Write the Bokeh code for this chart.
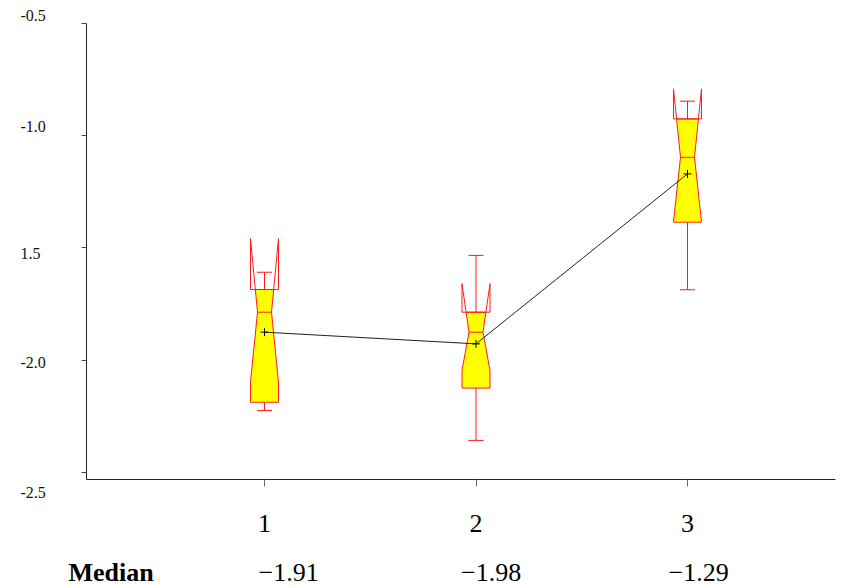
from bokeh.plotting import figure
from bokeh.models import Range1d, FixedTicker
from bokeh.core.properties import value
from bokeh.embed import file_html
from bokeh.resources import INLINE

# ---- data ----
groups = [1, 2, 3]
q1 = [-2.187, -2.124, -1.385]
q3 = [-1.685, -1.786, -0.925]
medians = [-1.786, -1.875, -1.096]
notch_lo = [-2.098, -2.046, -1.383]
notch_hi = [-1.458, -1.659, -0.791]
whisker_lo = [-2.224, -2.357, -1.686]
whisker_hi = [-1.608, -1.533, -0.846]
means = [-1.875, -1.927, -1.170]

y_ticks = [-0.5, -1.0, -1.5, -2.0, -2.5]
y_tick_labels = ["-0.5", "-1.0", "1.5", "-2.0", "-2.5"]
x_tick_labels = ["1", "2", "3"]
median_title = "Median"
median_labels = ["\u22121.91", "\u22121.98", "\u22121.29"]

# ---- layout / styling ----
W, H = 848, 586
X0, X1 = 0.15839, 3.69976          # extent of the x axis line
Y0, Y1 = -2.53118, -0.5            # extent of the y axis line
XR = (-0.24823, 3.76123)
YR = (-3.00780, -0.39755)
BW = 0.0662        # box half width (data units)
NW = 0.5 * BW      # notch half width at median
CW = 0.0355        # whisker cap half width
RED = "#ff1a1a"
FONT = "Liberation Serif"
y_label_offsets = [-8, -9, 6, 2, 20]
median_x_offsets = [-6, -15, -19]

p = figure(width=W, height=H, output_backend="svg", toolbar_location=None,
           x_range=Range1d(*XR), y_range=Range1d(*YR),
           min_border_left=0, min_border_top=0, min_border_right=0, min_border_bottom=0)
p.outline_line_color = None
p.xgrid.visible = False
p.ygrid.visible = False
p.background_fill_color = "white"
p.border_fill_color = "white"

# boxes
fill_xs, fill_ys = [], []
seg_xs, seg_ys = [], []
for c, a, b, m, nl, nh, wl, wh in zip(groups, q1, q3, medians, notch_lo, notch_hi, whisker_lo, whisker_hi):
    def hw(y, lim):
        t = (y - m) / (lim - m)
        return NW + (BW - NW) * t
    left_pts = []
    if nl > a:
        left_pts += [(-BW, a), (-BW, nl)]
    else:
        left_pts += [(-hw(a, nl), a)]
    left_pts += [(-NW, m)]
    if nh < b:
        left_pts += [(-BW, nh), (-BW, b)]
    else:
        left_pts += [(-hw(b, nh), b)]
    right_pts = [(-dx, y) for dx, y in reversed(left_pts)]
    pts = left_pts + right_pts
    fill_xs.append([c + dx for dx, _ in pts])
    fill_ys.append([y for _, y in pts])
    if nh > b:
        h = hw(b, nh)
        for s in (-1, 1):
            seg_xs.append([c + s * h, c + s * BW, c + s * BW])
            seg_ys.append([b, nh, b])
        seg_xs.append([c - BW, c + BW]); seg_ys.append([b, b])
    if nl < a:
        h = hw(a, nl)
        for s in (-1, 1):
            seg_xs.append([c + s * h, c + s * BW, c + s * BW])
            seg_ys.append([a, nl, a])
        seg_xs.append([c - BW, c + BW]); seg_ys.append([a, a])
    seg_xs.append([c - NW, c + NW]); seg_ys.append([m, m])
    seg_xs.append([c, c]); seg_ys.append([b, wh])
    seg_xs.append([c, c]); seg_ys.append([a, wl])
    seg_xs.append([c - CW, c + CW]); seg_ys.append([wh, wh])
    seg_xs.append([c - CW, c + CW]); seg_ys.append([wl, wl])

p.patches(fill_xs, fill_ys, fill_color="#ffff00", line_color=RED, line_width=1)
p.multi_line(seg_xs, seg_ys, line_color=RED, line_width=1)

# means
p.line(groups, means, line_color="#222222", line_width=1)
p.scatter(groups, means, marker="cross", size=8, line_color="black", line_width=1)

# axes (drawn at fixed positions inside the canvas)
xa = p.xaxis[0]
xa.fixed_location = Y0
xa.bounds = (X0, X1)
xa.ticker = FixedTicker(ticks=groups)
xa.major_label_overrides = {g: t for g, t in zip(groups, x_tick_labels)}
xa.major_label_text_font = FONT
xa.major_label_text_font_size = "26px"
xa.major_label_text_color = "black"
xa.major_label_standoff = 29
xa.major_tick_out = 7
xa.major_tick_in = 0
xa.minor_tick_line_color = None
xa.axis_line_color = "#222222"
xa.major_tick_line_color = "#666666"

ya = p.yaxis[0]
ya.fixed_location = X0
ya.bounds = (Y0, Y1)
ya.ticker = FixedTicker(ticks=y_ticks)
ya.major_label_text_color = None
ya.major_label_text_font_size = "10px"
ya.major_tick_out = 5
ya.major_tick_in = 0
ya.minor_tick_line_color = None
ya.axis_line_color = "#222222"
ya.major_tick_line_color = "#444444"

# y tick labels (left aligned, as in the reference)
p.text(x=[X0] * len(y_ticks), y=y_ticks, text=y_tick_labels, x_offset=-66, y_offset=y_label_offsets,
       text_font=value(FONT), text_font_size="16px", text_color="#111111",
       text_align="left", text_baseline="middle")

# median row
p.text(x=[X0], y=[Y0], text=[median_title], x_offset=-18, y_offset=93,
       text_font=value(FONT), text_font_size="26px", text_font_style="bold",
       text_color="black", text_align="left", text_baseline="middle")
p.text(x=groups, y=[Y0] * len(groups), text=median_labels, x_offset=median_x_offsets, y_offset=93,
       text_font=value(FONT), text_font_size="26px", text_color="black",
       text_align="left", text_baseline="middle")

open("out.html", "w").write(file_html(p, INLINE))
